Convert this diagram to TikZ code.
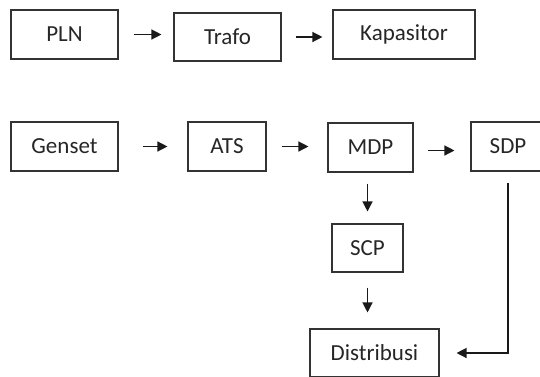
\documentclass[tikz,border=0pt]{standalone}
\usepackage{fontspec}
\setmainfont{Carlito}
\usetikzlibrary{arrows.meta}

\begin{document}
\begin{tikzpicture}[x=1pt, y=-1pt,
        Block/.style={rectangle, draw=black!80, line width=1.1pt, text=black!85, inner sep=0pt, minimum height=49pt, font=\fontsize{23}{27}\selectfont},
        Flow/.style={-{Triangle[length=10pt, width=10pt]}, line width=1.3pt, black!90}]
        % \draw[help lines, gray] (0,0) grid (540,376);
        \clip (0,0) rectangle (540,376);
        \node[Block, minimum width=107pt] (PLN) at (64.5, 34.5){PLN};
        \node[Block, minimum width=107pt, minimum height=48pt] (T) at (227.5, 37){Trafo};
        \node[Block, minimum width=142pt] (K) at (404, 34.5){Kapasitor};
        \node[Block, minimum width=107pt] (G) at (64.5, 146.5){Genset};
        \node[Block, minimum width=78pt] (A) at (227, 146.5){ATS};
        \node[Block, minimum width=85pt] (M) at (370.5, 147.5){MDP};
        \node[Block, minimum width=74pt] (S) at (508, 146.5){SDP};
        \node[Block, minimum width=71pt, minimum height=48pt] (SC) at (367.5, 248){SCP};
        \node[Block, minimum width=129pt, minimum height=48pt] (D) at (374.5, 353){Distribusi};

        \draw[Flow, shorten <=15pt, shorten >=12pt] (PLN.east) -- (PLN.east -| T.west);
        \draw[Flow, shorten <=14pt, shorten >=10pt] (T.east) -- (T.east -| K.west);
        \draw[Flow, shorten <=24pt, shorten >=20pt] (G.east) -- (G.east -| A.west);
        \draw[Flow, shorten <=15pt, shorten >=19pt] (A.east) -- (A.east -| M.west);
        \draw[Flow, shorten <=14pt, shorten >=16pt] ([yshift=-3pt]M.east) -- ([yshift=-3pt]M.east -| S.west);
        \draw[Flow, shorten <=11pt, shorten >=12pt] (SC.north |- M.south) -- (SC.north);
        \draw[Flow, shorten <=15pt, shorten >=16pt] (SC.south) -- (SC.south |- D.north);
        \draw[Flow, shorten <=11pt, shorten >=17pt] (S.south) |- (D.east);

    \end{tikzpicture}
\end{document}
